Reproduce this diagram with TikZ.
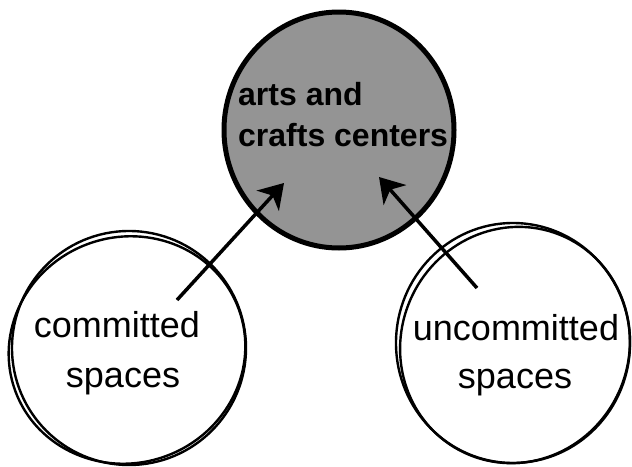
\documentclass[tikz,border=0pt]{standalone}
\usepackage{fontspec}
\setmainfont{Liberation Sans}
\usetikzlibrary{arrows.meta,shapes.geometric}
\tikzset{
  sketch/.style={draw=black, line width=2.4pt},
  hubcircle/.style={draw=black, line width=5pt, fill=black!42},
  label/.style={font=\fontsize{36}{40}\selectfont, anchor=base, inner sep=0pt},
  hublabel/.style={font=\bfseries\fontsize{32}{36}\selectfont, anchor=base west, inner sep=0pt},
  link/.style={line width=3.5pt, draw=black, -{Stealth[length=24pt,width=30pt,inset=7pt]}}
}
\begin{document}
\begin{tikzpicture}[x=1pt,y=-1pt]
\useasboundingbox (0,0) rectangle (632,466);
% lower circles (double sketchy traces)
\draw[sketch] (129,348) ellipse [x radius=117, y radius=117];
\draw[sketch, rotate around={20:(127,350)}] (127,350) ellipse [x radius=119, y radius=113];
\draw[sketch] (513,343) ellipse [x radius=117, y radius=120];
\draw[sketch, rotate around={-25:(515,345)}] (515,345) ellipse [x radius=114, y radius=119];
% hub circle
\node[hubcircle, ellipse, minimum width=230pt, minimum height=236pt, inner sep=0pt] (hub) at (339,130) {};
\node[hublabel] (h1) at (238,105) {arts and};
\node[hublabel] (h2) at (238,146) {crafts centers};
% lower labels
\node[label] (c1) at (117,337) {committed};
\node[label] (c2) at (123,387) {spaces};
\node[label] (u1) at (516,340) {uncommitted};
\node[label] (u2) at (515,388) {spaces};
% connectors
\coordinate (ls) at (177,300);
\coordinate (lt) at (284,183);
\coordinate (rs) at (477,288);
\coordinate (rt) at (379,177);
\draw[link] (ls) -- (lt);
\draw[link] (rs) -- (rt);
\end{tikzpicture}
\end{document}
